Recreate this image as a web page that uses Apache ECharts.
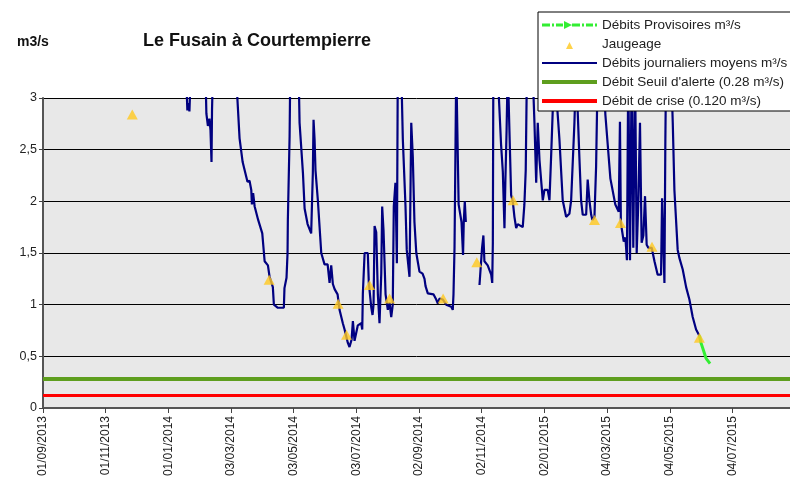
<!DOCTYPE html>
<html style="height: 100%">
<head>
<meta charset="utf-8">
<script type="text/javascript" src="https://cdn.jsdelivr.net/npm/echarts@6/dist/echarts.min.js"></script>
</head>
<body style="height: 100%; margin: 0; background: #fff">
	<div id="container" style="width: 790px; height: 499px"></div>
	<script type="text/javascript">
		// days counted from 01/09/2013
		var startDate = Date.UTC(2013, 8, 1);
		var axisDays = 727;

		// débits journaliers moyens (values above 3 leave the chart)
		var flowDays = [139, 140.5, 141.5, 142.5, 144,
			158, 159, 160.5, 162, 163, 164, 164.5, 165.5,
			187.5, 191.3, 194.3, 199, 201, 202.7, 203.3, 204.5, 206, 209.4, 213.4, 215.7, 218.9, 220.5, 223.7, 224.7, 228.6, 234.4, 235, 237, 238, 238.3, 240, 240.7,
			248.7, 249.7, 253, 254.6, 257.5, 261, 262.6, 263.3, 264.3, 265.2, 267.5, 270.8, 274, 277, 278.9, 280.5, 282.1, 283.8, 286.7, 288.6, 291.8, 293.5, 296.7, 298.3, 300.3, 301.6, 303.2, 306.4, 309.7, 310.7, 311.3, 313, 316.1, 317.1, 319.4, 320.7, 321.7, 322.7, 324.3, 325.9, 327.5, 329.2, 330.1, 331.4, 333.4, 335.6, 337.3, 338.9, 340.4, 341.4, 343, 344.4, 345.3,
			348.6, 350.2, 352.8, 354, 356.7, 358.4, 359.9, 361.5, 363.3, 366.4, 369.4, 371.3, 372.3, 374.5, 380, 382.7, 384.3, 385.9, 389.1, 392.4, 397.3, 398.8, 399.5, 400.5, 401.5, 402.2,
			403.5, 404.5, 406, 407.3, 408.8, 409.5, 410.5, 411.5, 412,
			424.8, 427.3, 428.6, 429.6, 432.8, 436.2, 437.2, 437.8, 438.3,
			442.3, 445.8, 447.5, 449.1, 450, 451.2, 452.3,
			453.5, 455.6, 457.2, 458.8, 460.5, 462, 463.6, 466.9, 468.5, 469.8, 471,
			476.4, 478.3, 480, 481.5, 483.2, 486.4, 488, 491.2, 492.9, 494.5, 496.1, 497.7,
			499.4, 502.6, 505.8, 509.1, 512.3, 514, 517.2, 518.8,
			520.4, 522, 523.7, 525.3, 528.6, 530.1, 531.8, 533.5, 534.7, 536.7, 538.3, 539.9,
			545.4, 547.3, 552.2, 557, 560.3, 561.5, 562.4, 565.2, 566.8, 568.3, 569.6, 571.3, 572.9, 574.5, 576.2, 577.8, 579.4, 581, 582.6, 584.3, 585.9, 587.5, 589.1, 592.4, 595.1, 598.2, 601.5, 602.5, 603.8, 604.8, 605.7, 606.4,
			611.3, 612.9, 614.5, 617.7, 619.4, 622.6, 625.9, 629.1, 632.3, 635.6, 638.8];
		var flowValues = [3.3, 2.88, 2.95, 2.87, 3.3,
			3.3, 2.85, 2.73, 2.8, 2.69, 2.38, 2.89, 3.3,
			3.3, 2.61, 2.38, 2.19, 2.2, 2.11, 1.97, 2.08, 1.95, 1.82, 1.69, 1.42, 1.38, 1.27, 1.17, 1.0, 0.97, 0.97, 1.16, 1.26, 1.5, 1.82, 2.63, 3.3,
			3.3, 2.76, 2.27, 1.93, 1.78, 1.69, 2.27, 2.79, 2.6, 2.3, 2.01, 1.5, 1.39, 1.39, 1.21, 1.38, 1.2, 1.15, 1.1, 0.95, 0.82, 0.76, 0.63, 0.59, 0.66, 0.84, 0.65, 0.8, 0.82, 0.76, 1.11, 1.5, 1.5, 1.21, 0.98, 0.9, 1.0, 1.76, 1.7, 1.1, 0.82, 1.3, 1.95, 1.72, 1.1, 0.95, 1.02, 0.88, 1.0, 1.95, 2.18, 1.4, 3.3,
			3.3, 2.6, 1.95, 1.53, 1.27, 2.76, 2.43, 1.8, 1.5, 1.32, 1.3, 1.25, 1.18, 1.11, 1.1, 1.05, 1.01, 1.06, 1.05, 1.0, 0.98, 0.95, 1.1, 1.55, 2.58, 3.3,
			3.3, 1.97, 1.97, 1.8, 1.48, 1.8, 2.0, 1.8, null,
			1.19, 1.55, 1.67, 1.42, 1.38, 1.29, 1.21, 1.6, 3.3,
			3.3, 2.55, 2.29, 1.74, 2.2, 2.7, 3.3,
			3.3, 2.06, 2.0, 1.85, 1.74, 1.78, 1.79, 1.75, 1.97, 2.3, 3.3,
			3.3, 2.76, 2.18, 2.76, 2.4, 2.01, 2.11, 2.11, 2.01, 2.43, 2.88, 3.3,
			3.3, 2.6, 2.01, 1.85, 1.88, 2.01, 2.76, 3.3,
			3.3, 2.43, 2.01, 1.87, 1.87, 2.21, 2.01, 1.87, 1.82, 1.85, 2.34, 3.3,
			3.3, 2.84, 2.22, 1.97, 1.9, 2.77, 1.79, 1.61, 1.65, 1.43, 3.3, 1.43, 3.3, 1.55, 3.3, 1.5, 2.0, 2.76, 1.6, 1.67, 2.05, 1.58, 1.55, 1.55, 1.42, 1.29, 1.29, 2.03, 2.03, 1.21, 2.6, 3.3,
			3.3, 2.76, 2.11, 1.53, 1.45, 1.34, 1.17, 1.05, 0.88, 0.76, 0.7];

		// débits provisoires
		var provDays = [638.8, 640.4, 643.7, 645.3, 646.5, 649.2];
		var provValues = [0.7, 0.63, 0.53, 0.48, 0.47, 0.43];

		// jaugeages
		var gaugeDays = [86.9, 220.1, 287.2, 295.4, 317.8, 337.3, 389.4, 422.2, 457.5, 536.7, 562, 592.7, 638.8];
		var gaugeValues = [2.84, 1.24, 1.01, 0.71, 1.19, 1.06, 1.06, 1.41, 2.01, 1.82, 1.79, 1.56, 0.68];

		var seuilAlerte = 0.28;
		var seuilCrise = 0.12;

		var names = ['Débits Provisoires m³/s', 'Jaugeage', 'Débits journaliers moyens m³/s',
			"Débit Seuil d'alerte (0.28 m³/s)", 'Débit de crise (0.120 m³/s)'];

		// legend icons drawn in a 55x12 box (the two empty points fix the box)
		var box = 'path://M0,0L0,0ZM55,12L55,12Z';
		var iconProv = box + 'M0,4.5H8V7.5H0ZM10,4.5H12V7.5H10ZM14,4.5H21V7.5H14ZM22,2L30,6L22,10ZM30,4.5H38V7.5H30Z' +
			'M40,4.5H42V7.5H40ZM44,4.5H51V7.5H44ZM53,4.5H55V7.5H53Z';
		var iconGauge = box + 'M24,11L27.5,4L31,11Z';
		var iconFlow = box + 'M0,5H55V7H0Z';
		var iconThick = box + 'M0,4H55V8H0Z';

		function pairs(xs, ys) {
			var out = [];
			for (var i = 0; i < xs.length; i++) {
				out.push([xs[i], ys[i]]);
			}
			return out;
		}
		function pad(n) {
			return n < 10 ? '0' + n : '' + n;
		}
		function dayLabel(v) {
			if (v % 61 !== 0) return '';
			var d = new Date(startDate + v * 86400000);
			return pad(d.getUTCDate()) + '/' + pad(d.getUTCMonth() + 1) + '/' + d.getUTCFullYear();
		}

		var font = 'Arial, "Liberation Sans", sans-serif';
		var dom = document.getElementById("container");
		var myChart = echarts.init(dom);
		var option = {
			animation: false,
			backgroundColor: '#fff',
			title: [{
				text: 'Le Fusain à Courtempierre',
				left: 143, top: 32, padding: 0,
				textStyle: {fontFamily: font, fontSize: 18, fontWeight: 'bold', color: '#111'}
			}, {
				text: 'm3/s',
				left: 17, top: 35, padding: 0,
				textStyle: {fontFamily: font, fontSize: 14, fontWeight: 'bold', color: '#111'}
			}],
			legend: {
				orient: 'vertical',
				left: 538, top: 12,
				padding: [6, 30, 3, 4],
				itemWidth: 55, itemHeight: 12, itemGap: 5,
				backgroundColor: '#fff', borderColor: '#000', borderWidth: 1,
				textStyle: {fontFamily: font, fontSize: 13.5, color: '#222'},
				data: [
					{name: names[0], icon: iconProv},
					{name: names[1], icon: iconGauge},
					{name: names[2], icon: iconFlow},
					{name: names[3], icon: iconThick},
					{name: names[4], icon: iconThick}
				]
			},
			grid: {
				left: 43, right: 0, top: 98, bottom: 91,
				show: true, backgroundColor: '#e8e8e8', borderWidth: 0
			},
			xAxis: {
				type: 'value', min: 0, max: axisDays, interval: 61,
				axisLine: {lineStyle: {color: '#555', width: 2}},
				axisTick: {length: 5, lineStyle: {color: '#444'}},
				splitLine: {show: false},
				axisLabel: {rotate: 90, margin: 8, fontFamily: font, fontSize: 12, color: '#222',
					showMaxLabel: false, formatter: dayLabel}
			},
			yAxis: {
				type: 'value', min: 0, max: 3, interval: 0.5,
				axisLine: {show: true, lineStyle: {color: '#555', width: 2}},
				axisTick: {show: true, length: 4, lineStyle: {color: '#444'}},
				splitLine: {lineStyle: {color: '#000', width: 1}},
				axisLabel: {margin: 6, fontFamily: font, fontSize: 12.5, color: '#222',
					formatter: function (v) { return String(v).replace('.', ','); }}
			},
			series: [{
				name: names[0], type: 'line',
				data: pairs(provDays, provValues),
				symbol: 'none',
				itemStyle: {color: '#33ee33'},
				lineStyle: {color: '#33ee33', width: 3},
				z: 4
			}, {
				name: names[1], type: 'scatter',
				data: pairs(gaugeDays, gaugeValues),
				symbol: 'triangle', symbolSize: [11, 10],
				itemStyle: {color: '#ffc81e'},
				z: 5
			}, {
				name: names[2], type: 'line',
				data: pairs(flowDays, flowValues),
				symbol: 'none', connectNulls: false,
				lineStyle: {color: '#000080', width: 2.2},
				itemStyle: {color: '#000080'},
				z: 3
			}, {
				name: names[3], type: 'line',
				data: [[0, seuilAlerte], [axisDays, seuilAlerte]],
				symbol: 'none',
				lineStyle: {color: '#5e9e1e', width: 4},
				itemStyle: {color: '#5e9e1e'},
				z: 3
			}, {
				name: names[4], type: 'line',
				data: [[0, seuilCrise], [axisDays, seuilCrise]],
				symbol: 'none',
				lineStyle: {color: '#ff0000', width: 3},
				itemStyle: {color: '#ff0000'},
				z: 3
			}]
		};
		if (option && typeof option === "object") {
			myChart.setOption(option, true);
		}
	</script>
</body>
</html>
